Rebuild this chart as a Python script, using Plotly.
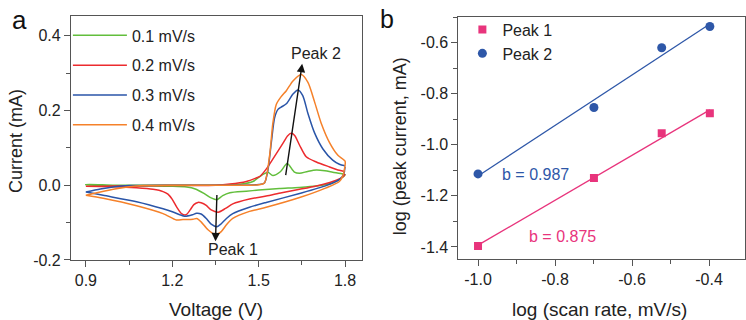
import numpy as np
import plotly.graph_objects as go

# ---------------- data: panel a (cyclic voltammograms) ----------------
scan_labels = ["0.1 mV/s", "0.2 mV/s", "0.3 mV/s", "0.4 mV/s"]

v_01 = [1.800, 1.785, 1.756, 1.700, 1.640, 1.572, 1.500, 1.457, 1.400, 1.375, 1.355, 1.335, 1.310,
        1.280, 1.250, 1.200, 1.100, 1.000, 0.900,
        0.900, 1.000, 1.200, 1.350, 1.440, 1.480, 1.505, 1.520, 1.532, 1.549, 1.575, 1.599,
        1.624, 1.642, 1.670, 1.700, 1.730, 1.757, 1.792, 1.800]
i_01 = [0.028, 0.018, 0.006, -0.002, -0.006, -0.009, -0.013, -0.016, -0.020, -0.028, -0.039, -0.034, -0.022,
        -0.010, -0.005, -0.003, -0.002, -0.001, 0.001,
        0.002, 0.000, 0.000, 0.000, 0.003, 0.010, 0.024, 0.031, 0.035, 0.026, 0.036, 0.058,
        0.035, 0.032, 0.037, 0.041, 0.039, 0.035, 0.030, 0.028]

v_02 = [1.800, 1.792, 1.757, 1.700, 1.642, 1.580, 1.526, 1.468, 1.410, 1.385, 1.360, 1.335, 1.318,
        1.300, 1.289, 1.275, 1.262, 1.248, 1.232, 1.215, 1.200, 1.185, 1.168, 1.133, 1.076, 1.000, 0.900,
        0.900, 1.000, 1.200, 1.350, 1.400, 1.457, 1.490, 1.505, 1.526, 1.549, 1.584, 1.600, 1.613,
        1.625, 1.642, 1.665, 1.700, 1.746, 1.780, 1.800]
i_02 = [0.030, 0.022, 0.010, -0.002, -0.011, -0.020, -0.029, -0.037, -0.050, -0.062, -0.072, -0.066, -0.054,
        -0.047, -0.046, -0.052, -0.066, -0.079, -0.076, -0.058, -0.038, -0.024, -0.017, -0.011, -0.007, -0.004, -0.003,
        -0.003, -0.002, -0.001, 0.000, 0.003, 0.010, 0.019, 0.024, 0.043, 0.070, 0.112, 0.132, 0.139,
        0.133, 0.107, 0.076, 0.062, 0.049, 0.040, 0.036]

v_03 = [1.800, 1.797, 1.794, 1.780, 1.734, 1.642, 1.526, 1.468, 1.410, 1.388, 1.370, 1.355, 1.335,
        1.318, 1.300, 1.284, 1.270, 1.243, 1.226, 1.200, 1.168, 1.076, 0.960, 0.900,
        0.900, 0.950, 1.000, 1.050, 1.200, 1.400, 1.500, 1.520, 1.532, 1.544, 1.555, 1.567, 1.578,
        1.596, 1.619, 1.636, 1.653, 1.671, 1.694, 1.723, 1.757, 1.780, 1.800]
i_03 = [0.050, 0.035, 0.028, 0.015, -0.001, -0.022, -0.046, -0.059, -0.076, -0.089, -0.103, -0.111, -0.104,
        -0.089, -0.077, -0.075, -0.079, -0.083, -0.079, -0.071, -0.063, -0.044, -0.027, -0.018,
        -0.018, -0.010, -0.004, -0.001, 0.000, 0.000, 0.002, 0.006, 0.040, 0.115, 0.180, 0.203, 0.209,
        0.218, 0.244, 0.255, 0.240, 0.192, 0.140, 0.097, 0.067, 0.056, 0.052]

v_04 = [1.800, 1.797, 1.792, 1.780, 1.734, 1.642, 1.526, 1.468, 1.410, 1.388, 1.370, 1.350, 1.324,
        1.300, 1.285, 1.272, 1.237, 1.214, 1.168, 1.076, 0.960, 0.900,
        0.900, 0.950, 1.000, 1.050, 1.100, 1.200, 1.400, 1.500, 1.520, 1.538, 1.549, 1.561, 1.578,
        1.596, 1.619, 1.648, 1.671, 1.694, 1.717, 1.746, 1.775, 1.800]
i_04 = [0.064, 0.040, 0.025, 0.010, -0.007, -0.033, -0.059, -0.070, -0.089, -0.106, -0.124, -0.132, -0.119,
        -0.098, -0.089, -0.091, -0.092, -0.093, -0.076, -0.055, -0.035, -0.027,
        -0.027, -0.018, -0.010, -0.004, -0.001, 0.000, 0.000, 0.001, 0.006, 0.080, 0.165, 0.216, 0.237,
        0.253, 0.279, 0.296, 0.275, 0.223, 0.166, 0.114, 0.080, 0.064]

# ---------------- data: panel b (log-log peak currents) ----------------
log_scan_rate = [-1.000, -0.699, -0.523, -0.398]
log_peak1 = [-1.396, -1.130, -0.955, -0.877]
log_peak2 = [-1.114, -0.854, -0.620, -0.537]
b_labels = ["b = 0.875", "b = 0.987"]

# ---------------- tick labels ----------------
a_xticks = [0.9, 1.2, 1.5, 1.8]
a_xticktext = ["0.9", "1.2", "1.5", "1.8"]
a_yticks = [-0.2, 0.0, 0.2, 0.4]
a_yticktext = ["-0.2", "0.0", "0.2", "0.4"]
b_xticks = [-1.0, -0.8, -0.6, -0.4]
b_xticktext = ["-1.0", "-0.8", "-0.6", "-0.4"]
b_yticks = [-1.4, -1.2, -1.0, -0.8, -0.6]
b_yticktext = ["-1.4", "-1.2", "-1.0", "-0.8", "-0.6"]

# ---------------- styles ----------------
FONT = "Liberation Sans, Arial, sans-serif"
cv_colors = ["#62BE3C", "#EC2B2E", "#2A55A8", "#F5812A"]
PINK = "#E8347C"
BLUE = "#2E57A8"
AXC = "#555555"

W, H = 746, 320
def px(x):
    return x / W
def py(y):
    return 1 - y / H

fig = go.Figure()

cv_v = [v_01, v_02, v_03, v_04]
cv_i = [i_01, i_02, i_03, i_04]
for k in range(4):
    fig.add_trace(go.Scatter(
        x=cv_v[k], y=cv_i[k], mode="lines", name=scan_labels[k],
        line=dict(color=cv_colors[k], width=1.5, shape="spline", smoothing=0.7),
        xaxis="x", yaxis="y", legend="legend", legendgroup="g%d" % k))

# fits
lx = np.array(log_scan_rate)
for ys, col in [(log_peak1, PINK), (log_peak2, BLUE)]:
    m, c = np.polyfit(lx, np.array(ys), 1)
    xf = np.array([lx.min(), lx.max()])
    fig.add_trace(go.Scatter(x=xf, y=m * xf + c, mode="lines", showlegend=False,
                             line=dict(color=col, width=1.3), xaxis="x2", yaxis="y2"))

fig.add_trace(go.Scatter(x=log_scan_rate, y=log_peak1, mode="markers", name="Peak 1",
                         marker=dict(symbol="square", size=8, color=PINK),
                         xaxis="x2", yaxis="y2", legend="legend2"))
fig.add_trace(go.Scatter(x=log_scan_rate, y=log_peak2, mode="markers", name="Peak 2",
                         marker=dict(symbol="circle", size=9, color=BLUE),
                         xaxis="x2", yaxis="y2", legend="legend2"))

axis_common = dict(showline=True, linecolor=AXC, linewidth=1, mirror=True,
                   ticks="outside", ticklen=6, tickwidth=1, tickcolor=AXC,
                   showgrid=False, zeroline=False, tickmode="array",
                   tickfont=dict(family=FONT, size=16, color="#222222"))

fig.update_layout(
    width=W, height=H, margin=dict(l=0, r=0, t=0, b=0),
    paper_bgcolor="white", plot_bgcolor="white",
    font=dict(family=FONT, color="#222222"),
    xaxis=dict(domain=[px(71), px(362)], range=[0.848, 1.857], anchor="y",
               tickvals=a_xticks, ticktext=a_xticktext,
               minor=dict(ticks="outside", ticklen=4, tickcolor=AXC, tickmode="array",
                          tickvals=[1.05, 1.35, 1.65]),
               **axis_common),
    yaxis=dict(domain=[py(267.5), py(16)], range=[-0.2, 0.454], anchor="x",
               tickvals=a_yticks, ticktext=a_yticktext,
               minor=dict(ticks="outside", ticklen=4, tickcolor=AXC, tickmode="array",
                          tickvals=[-0.1, 0.1, 0.3]),
               **axis_common),
    xaxis2=dict(domain=[px(459), px(745.5)], range=[-1.051, -0.308], anchor="y2",
                tickvals=b_xticks, ticktext=b_xticktext,
                minor=dict(ticks="outside", ticklen=4, tickcolor=AXC, tickmode="array",
                           tickvals=[-0.9, -0.7, -0.5]),
                **axis_common),
    yaxis2=dict(domain=[py(266.7), py(17.3)], range=[-1.448, -0.499], anchor="x2",
                tickvals=b_yticks, ticktext=b_yticktext,
                minor=dict(ticks="outside", ticklen=4, tickcolor=AXC, tickmode="array",
                           tickvals=[-1.3, -1.1, -0.9, -0.7, -0.5]),
                **axis_common),
    legend=dict(x=px(68), y=py(19), xanchor="left", yanchor="top",
                bgcolor="rgba(0,0,0,0)", itemwidth=54, tracegroupgap=6,
                font=dict(family=FONT, size=16, color="#222222")),
    legend2=dict(x=px(463), y=py(13), xanchor="left", yanchor="top",
                 bgcolor="rgba(0,0,0,0)", itemwidth=30,
                 font=dict(family=FONT, size=16, color="#222222")),
    showlegend=True,
)

ann = []
# axis titles
ann.append(dict(text="Voltage (V)", xref="paper", yref="paper", x=px(216), y=py(306),
                xanchor="center", yanchor="top", showarrow=False,
                font=dict(family=FONT, size=19, color="#222222")))
ann.append(dict(text="Current (mA)", xref="paper", yref="paper", x=px(16), y=py(145),
                xanchor="center", yanchor="middle", textangle=-90, showarrow=False,
                font=dict(family=FONT, size=18, color="#222222")))
ann.append(dict(text="log (scan rate, mV/s)", xref="paper", yref="paper", x=px(600), y=py(306),
                xanchor="center", yanchor="top", showarrow=False,
                font=dict(family=FONT, size=19, color="#222222")))
ann.append(dict(text="log (peak current, mA)", xref="paper", yref="paper", x=px(400), y=py(150),
                xanchor="center", yanchor="middle", textangle=-90, showarrow=False,
                font=dict(family=FONT, size=18, color="#222222")))
# panel letters
ann.append(dict(text="a", xref="paper", yref="paper", x=px(20), y=py(21),
                xanchor="center", yanchor="middle", showarrow=False,
                font=dict(family=FONT, size=26, color="#111111")))
ann.append(dict(text="b", xref="paper", yref="paper", x=px(388), y=py(20),
                xanchor="center", yanchor="middle", showarrow=False,
                font=dict(family=FONT, size=25, color="#111111")))
# peak arrows
ann.append(dict(x=1.350, y=-0.150, ax=1.355, ay=-0.022, xref="x", yref="y", axref="x", ayref="y",
                showarrow=True, arrowhead=2, arrowsize=1.2, arrowwidth=1.4, arrowcolor="#111111", text=""))
ann.append(dict(x=1.651, y=0.325, ax=1.593, ay=0.023, xref="x", yref="y", axref="x", ayref="y",
                showarrow=True, arrowhead=2, arrowsize=1.2, arrowwidth=1.4, arrowcolor="#111111", text=""))
ann.append(dict(text="Peak 1", x=1.41, y=-0.172, xref="x", yref="y", showarrow=False,
                font=dict(family=FONT, size=16, color="#222222")))
ann.append(dict(text="Peak 2", x=1.70, y=0.352, xref="x", yref="y", showarrow=False,
                font=dict(family=FONT, size=16, color="#222222")))
# b values
ann.append(dict(text=b_labels[1], x=-0.850, y=-1.117, xref="x2", yref="y2", showarrow=False,
                font=dict(family=FONT, size=16, color=BLUE)))
ann.append(dict(text=b_labels[0], x=-0.780, y=-1.359, xref="x2", yref="y2", showarrow=False,
                font=dict(family=FONT, size=16, color=PINK)))
fig.update_layout(annotations=ann)

fig.write_html("out.html", config={"displayModeBar": False},
               post_script="document.body.style.margin='0px';document.body.style.overflow='hidden';")
